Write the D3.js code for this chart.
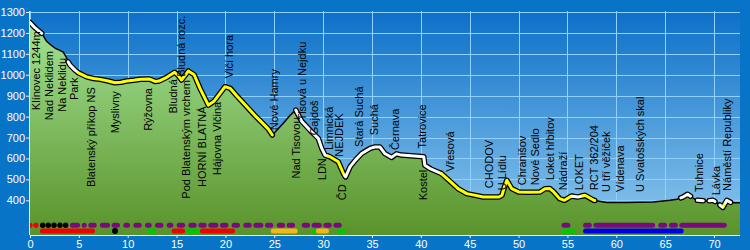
<!DOCTYPE html>
<html>
<head>
<meta charset="utf-8">
<script src="https://cdn.jsdelivr.net/npm/d3@7"></script>
<style>
body { margin: 0; background: #0874c8; }
text { font-family: "Liberation Sans", Arial, sans-serif; }
</style>
</head>
<body>
<div id="chart"></div>
<script>
////// DATA

// Höhenprofil: km und Höhe (m)
var profileKm = [0,0.5,1.2,1.7,2.2,2.6,3.0,3.4,3.7,3.9,4.1,4.6,5.0,5.8,6.5,7.2,8.0,8.7,9.3,9.9,10.6,11.3,12.2,12.8,13.2,14.0,14.8,15.2,15.5,16.0,16.2,16.8,17.4,18.25,18.8,19.5,19.96,20.5,21.15,22.2,23.0,23.5,24.4,24.8,25.9,26.6,27.2,27.8,28.66,29.5,29.86,30.2,30.7,31.55,32.07,32.3,32.75,33.3,33.95,34.8,35.3,35.8,36.3,37.0,37.5,38.0,40.3,40.4,41.0,42.1,43.0,43.8,44.7,46.4,48.0,48.3,48.6,48.8,49.3,50.0,51.0,52.2,52.7,53.2,53.6,54.2,54.7,55.4,56.1,56.8,57.7,59.0,61.0,63.8,65.5,66.2,66.8,67.3,68.2,69.3,69.9,70.4,70.9,71.3,71.8,72.7];
var profileElev = [1250,1225,1198,1160,1140,1126,1118,1108,1085,1062,1046,1022,1008,990,982,978,970,962,964,970,974,979,980,968,970,988,1012,995,975,1005,1018,1000,935,855,872,915,943,935,900,847,806,783,740,712,767,805,831,778,735,696,648,616,608,584,528,512,560,592,624,648,655,655,624,605,622,616,608,568,550,528,490,456,432,416,416,424,470,496,456,440,438,440,455,456,440,408,400,420,416,424,400,389,390,392,400,405,415,429,400,397,400,385,366,400,388,388];

// Abschnitte der Trasse (w = weiß, y = gelb, n = ohne)
var segFrom = [0,1.2,3.9,4.9,24.8,27.2,30.5,32.2,42.1,55.5,56.6,57.8,66.6,67.6,68.3,68.9,69.5,70.1,70.6,71.0,71.15,71.7];
var segTo   = [1.2,3.9,4.9,24.8,27.2,30.5,32.2,42.1,55.5,56.6,57.8,66.6,67.6,68.3,68.9,69.5,70.1,70.6,71.0,71.15,71.7,72.7];
var segKind = ["w","n","w","y","n","w","y","w","y","w","y","n","w","n","w","n","w","n","w","y","w","n"];

// Ortsnamen, km, Höhe an der der Text beginnt
var placeNames = ["Klínovec 1244m","Nad Neklidem","Na Neklidu","Park","Blatenský příkop NS","Myslivny","Rýžovna","Bludná","Bludná rozc.","Pod Blatenským vrchem","HORNÍ BLATNÁ","Hájovna Vlčina","Vlčí hora","Nové Hamry","Nad Tisovou","Tisová u Nejdku","Gajdoš","Limnická","LDN","NEJDEK","ČD","Stará Suchá","Suchá","Černava","Tatrovice","Kostel","Vřesová","CHODOV","U Lídlu","Chranišov","Nové Sedlo","Loket hřbitov","Nádraží","LOKET","RCT 362/204","U tří věžiček","Vídenava","U Svatošských skal","Tuhnice","Lávka","Náměstí Republiky"];
var placeKm = [0.65,1.95,3.24,4.47,6.26,8.67,12.1,14.64,15.49,16.0,17.6,19.1,20.4,24.97,27.2,27.8,29.1,30.6,29.9,31.6,31.9,33.7,35.2,37.36,40.1,40.26,42.96,46.98,48.3,50.4,51.7,53.2,54.5,56.2,57.7,58.95,60.4,62.4,68.5,70.2,71.3];
var placeBase = [831,783,823,879,464,720,732,815,990,408,464,520,983,735,504,783,711,640,496,608,400,655,711,640,648,400,536,458,448,472,472,496,448,448,448,440,440,440,440,424,445];

// obere Reihe: lila Abschnitte, rote und schwarze Punkte
var purpleFrom = [4.09,5.29,5.97,7.16,8.36,9.55,10.58,11.77,12.79,13.99,15.01,16.21,17.23,18.25,19.45,20.64,21.83,22.86,24.05,25.25,26.27,27.81,28.83,30.02,31.05,54.4,56.6,57.66,64.3,65.4,66.46];
var purpleTo   = [5.12,5.80,6.82,8.19,9.21,10.24,11.43,12.45,13.65,14.67,15.87,17.06,18.08,19.28,20.3,21.49,22.69,23.88,24.9,26.1,27.12,28.66,29.86,30.88,31.9,55.3,57.5,63.97,65.2,66.3,71.3];
var redDotsKm = [0, 0.61];
var blackDotsKm = [1.3, 1.87, 2.46, 3.07, 3.65];

// untere Reihe
var redBars = [[1.02,6.65],[14.5,15.87],[17.4,20.98]];
var greenBars = [[11.94,12.9],[15.97,17.4],[28.83,29.34],[31.45,32.34],[54.4,55.8]];
var orangeBars = [[24.63,27.4],[29.27,30.6]];
var blueBars = [[56.6,66.9]];
var lowerBlackDotsKm = [8.7];

var xTicks = [0,5,10,15,20,25,30,35,40,45,50,55,60,65,70];
var yTicks = [400,500,600,700,800,900,1000,1100,1200,1300];

////// ZEICHNEN

var W = 750, H = 250;
var pLeft = 30, pRight = 740, pTop = 11, pBottom = 235;

var x = d3.scaleLinear().domain([0, 70]).range([30, 714]);
var y = d3.scaleLinear().domain([400, 1300]).range([200.3, 12]);

var svg = d3.select("#chart").append("svg")
  .attr("width", W).attr("height", H);

var defs = svg.append("defs");

var sky = defs.append("linearGradient").attr("id", "sky")
  .attr("x1", 0).attr("y1", 0).attr("x2", 0).attr("y2", 1);
sky.append("stop").attr("offset", "0%").attr("stop-color", "#0c70c8");
sky.append("stop").attr("offset", "100%").attr("stop-color", "#90c9ee");

var grass = defs.append("linearGradient").attr("id", "grass")
  .attr("gradientUnits", "userSpaceOnUse")
  .attr("x1", 0).attr("y1", pTop).attr("x2", 0).attr("y2", pBottom);
grass.append("stop").attr("offset", "0%").attr("stop-color", "#a6e69a");
grass.append("stop").attr("offset", "100%").attr("stop-color", "#5a932a");

defs.append("clipPath").attr("id", "plotclip")
  .append("rect").attr("x", pLeft).attr("y", pTop)
  .attr("width", pRight - pLeft).attr("height", pBottom - pTop);

// Hintergrund
svg.append("rect").attr("width", W).attr("height", H).attr("fill", "#0874c8");
svg.append("rect").attr("x", pLeft).attr("y", pTop)
  .attr("width", pRight - pLeft).attr("height", pBottom - pTop)
  .attr("fill", "url(#sky)");

var plot = svg.append("g").attr("clip-path", "url(#plotclip)");

// Gitter
plot.selectAll(".gy").data(yTicks).enter().append("line")
  .attr("x1", pLeft).attr("x2", pRight)
  .attr("y1", function(d) { return Math.round(y(d)) + 0.5; })
  .attr("y2", function(d) { return Math.round(y(d)) + 0.5; })
  .attr("stroke", "#8fd2ff").attr("stroke-width", 1);
plot.selectAll(".gx").data(xTicks).enter().append("line")
  .attr("y1", pTop).attr("y2", pBottom)
  .attr("x1", function(d) { return Math.round(x(d)) + 0.5; })
  .attr("x2", function(d) { return Math.round(x(d)) + 0.5; })
  .attr("stroke", "#8fd2ff").attr("stroke-width", 1);

// Gelände
var pts = profileKm.map(function(k, i) { return [k, profileElev[i]]; });

plot.append("path").datum(pts)
  .attr("fill", "url(#grass)")
  .attr("d", d3.area()
    .x(function(d) { return x(d[0]); })
    .y0(pBottom)
    .y1(function(d) { return y(d[1]); }));

// Höhe an beliebiger Stelle (linear zwischen Profilpunkten)
var elevAt = function(k) {
  var i = d3.bisectLeft(profileKm, k);
  if (i <= 0) return profileElev[0];
  if (i >= profileKm.length) return profileElev[profileElev.length - 1];
  var k0 = profileKm[i - 1], k1 = profileKm[i];
  var t = (k - k0) / (k1 - k0);
  return profileElev[i - 1] + t * (profileElev[i] - profileElev[i - 1]);
};

var segPoints = function(a, b) {
  var p = [[a, elevAt(a)]];
  profileKm.forEach(function(k, i) {
    if (k > a && k < b) p.push([k, profileElev[i]]);
  });
  p.push([b, elevAt(b)]);
  return p;
};

var line = d3.line()
  .x(function(d) { return x(d[0]); })
  .y(function(d) { return y(d[1]); });

var segs = segFrom.map(function(a, i) {
  return { kind: segKind[i], pts: segPoints(a, segTo[i]) };
});

// dünne schwarze Linie
plot.selectAll(".thin").data(segs.filter(function(s) { return s.kind == "n"; }))
  .enter().append("path")
  .attr("d", function(s) { return line(s.pts); })
  .attr("fill", "none").attr("stroke", "#000").attr("stroke-width", 1.5);

// breite Umrandung
var thick = segs.filter(function(s) { return s.kind != "n"; });
plot.selectAll(".outline").data(thick).enter().append("path")
  .attr("d", function(s) { return line(s.pts); })
  .attr("fill", "none").attr("stroke", "#000").attr("stroke-width", 5.5)
  .attr("stroke-linejoin", "round").attr("stroke-linecap", "round");
plot.selectAll(".inner").data(thick).enter().append("path")
  .attr("d", function(s) { return line(s.pts); })
  .attr("fill", "none")
  .attr("stroke", function(s) { return s.kind == "w" ? "#ffffff" : "#ffff00"; })
  .attr("stroke-width", 3)
  .attr("stroke-linejoin", "round").attr("stroke-linecap", "round");

// Ortsnamen
plot.selectAll(".place").data(placeNames).enter().append("text")
  .attr("transform", function(d, i) {
    return "translate(" + (x(placeKm[i]) + 4) + "," + y(placeBase[i]) + ") rotate(-90)";
  })
  .attr("font-size", 11).attr("fill", "#000")
  .text(function(d) { return d; });

// obere Reihe
var row1 = 225.3, row2 = 231;
var capsule = function(sel, data, yy, color, w) {
  sel.selectAll(null).data(data).enter().append("line")
    .attr("x1", function(d) { return x(d[0]) + w / 2; })
    .attr("x2", function(d) { return Math.max(x(d[1]) - w / 2, x(d[0]) + w / 2); })
    .attr("y1", yy).attr("y2", yy)
    .attr("stroke", color).attr("stroke-width", w)
    .attr("stroke-linecap", "round");
};

capsule(plot, purpleFrom.map(function(a, i) { return [a, purpleTo[i]]; }), row1, "#7a0a7e", 5);

plot.selectAll(null).data(redDotsKm).enter().append("circle")
  .attr("cx", function(d) { return x(d); }).attr("cy", row1).attr("r", 2.6)
  .attr("fill", "#f00000");
plot.selectAll(null).data(blackDotsKm).enter().append("circle")
  .attr("cx", function(d) { return x(d); }).attr("cy", row1).attr("r", 2.7)
  .attr("fill", "#000");

// untere Reihe
capsule(plot, redBars, row2, "#f00000", 5);
capsule(plot, greenBars, row2, "#00c800", 5);
capsule(plot, orangeBars, row2, "#f2b51e", 5);
capsule(plot, blueBars, row2, "#0000e6", 5);
plot.selectAll(null).data(lowerBlackDotsKm).enter().append("circle")
  .attr("cx", function(d) { return x(d); }).attr("cy", row2).attr("r", 3)
  .attr("fill", "#000");

// Achsen
var xAxis = svg.append("g").attr("transform", "translate(0," + pBottom + ")")
  .call(d3.axisBottom(x).tickValues(xTicks).tickFormat(d3.format("d")).tickSize(3).tickPadding(2));
var yAxis = svg.append("g").attr("transform", "translate(" + pLeft + ",0)")
  .call(d3.axisLeft(y).tickValues(yTicks).tickFormat(d3.format("d")).tickSize(4).tickPadding(1));

[xAxis, yAxis].forEach(function(a) {
  a.select(".domain").remove();
  a.selectAll("line").attr("stroke", "#e8f2ff");
  a.selectAll("text").attr("fill", "#ffffff").attr("font-size", 11)
    .attr("font-family", "Liberation Sans, Arial, sans-serif");
});

svg.append("line").attr("x1", pLeft).attr("x2", pRight)
  .attr("y1", pBottom + 0.5).attr("y2", pBottom + 0.5)
  .attr("stroke", "#e8f2ff");
svg.append("line").attr("x1", pLeft - 0.5).attr("x2", pLeft - 0.5)
  .attr("y1", pTop).attr("y2", pBottom)
  .attr("stroke", "#d8ecff");
</script>
</body>
</html>
